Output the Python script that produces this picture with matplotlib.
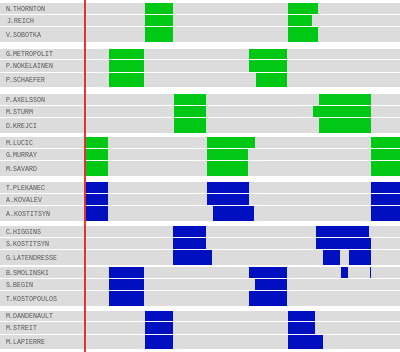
import matplotlib
matplotlib.use("Agg")
import matplotlib.pyplot as plt

# ---- data ----
players = [
    "N.THORNTON", "J.REICH", "V.SOBOTKA",
    "G.METROPOLIT", "P.NOKELAINEN", "P.SCHAEFER",
    "P.AXELSSON", "M.STURM", "D.KREJCI",
    "M.LUCIC", "G.MURRAY", "M.SAVARD",
    "T.PLEKANEC", "A.KOVALEV", "A.KOSTITSYN",
    "C.HIGGINS", "S.KOSTITSYN", "G.LATENDRESSE",
    "B.SMOLINSKI", "S.BEGIN", "T.KOSTOPOULOS",
    "M.DANDENAULT", "M.STREIT", "M.LAPIERRE",
]
teams = ["BOS"] * 12 + ["MTL"] * 12

# shifts: (start, end) on the time axis
shifts = [
    [(145, 173.3), (288, 318.3)],
    [(145, 173.3), (288, 312.3)],
    [(145, 173.3), (288, 318.3)],
    [(109, 144), (249, 287.3)],
    [(109, 144), (249, 287.3)],
    [(109, 144), (255.7, 287.3)],
    [(174, 206), (319, 371)],
    [(174, 206), (313, 371)],
    [(174, 206), (319, 371)],
    [(86, 108.3), (206.7, 255), (371, 400)],
    [(86, 108.3), (206.7, 248.3), (371, 400)],
    [(86, 108.3), (206.7, 248.3), (371, 400)],
    [(86, 108.3), (206.7, 249), (371, 400)],
    [(86, 108.3), (206.7, 249), (371, 400)],
    [(86, 108.3), (212.7, 254.3), (371, 400)],
    [(173.3, 206), (315.7, 369.3)],
    [(173.3, 206), (315.7, 371)],
    [(173.3, 212.3), (323.3, 340.3), (349, 371)],
    [(109, 144), (249.3, 287.3), (341, 348), (369.7, 371)],
    [(109, 144), (255, 287.3)],
    [(109, 144), (249.3, 287.3)],
    [(145, 172.7), (288, 315)],
    [(145, 172.7), (288, 315)],
    [(145, 172.7), (288, 322.7)],
]
marker_time = 85.3
team_colors = {"BOS": "#00c814", "MTL": "#0010c0"}

# ---- layout ----
W, H = 400, 352
fig = plt.figure(figsize=(W / 100, H / 100), dpi=100)
ax = fig.add_axes([0, 0, 1, 1])
ax.set_xlim(0, W)
ax.set_ylim(H, 0)
ax.axis("off")

group_tops = [3.3, 48.7, 94, 137, 182, 226, 267.3, 310.7]
row_heights = [10.5, 11.5, 14.5]
gap = 1.0

for i, name in enumerate(players):
    g, r = divmod(i, 3)
    top = group_tops[g] + sum(row_heights[:r]) + gap * r
    h = row_heights[r]
    ax.add_patch(plt.Rectangle((0, top), W, h, facecolor="#dcdcdc",
                               edgecolor="none", zorder=1))
    for (s, e) in shifts[i]:
        ax.add_patch(plt.Rectangle((s, top), e - s, h,
                                   facecolor=team_colors[teams[i]],
                                   edgecolor="none", zorder=2))
    ax.text(6, top + h / 2 + 1, name, fontsize=4.8, family="Liberation Mono",
            color="#555555", va="center", ha="left", zorder=3)

ax.axvline(marker_time, color="#e00000", lw=1.1, zorder=4)

fig.savefig("out.png", dpi=100)
